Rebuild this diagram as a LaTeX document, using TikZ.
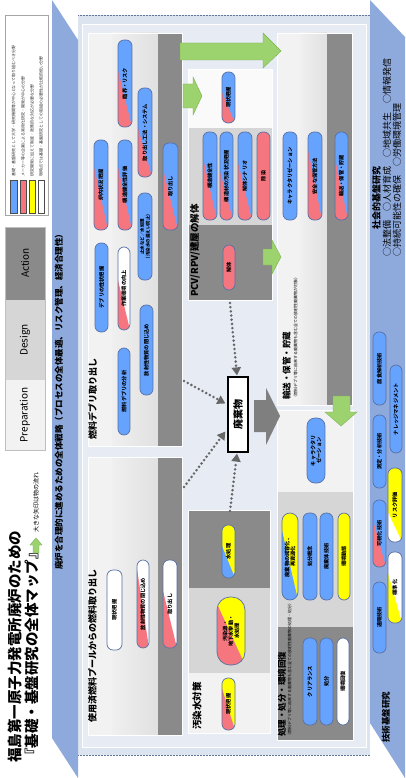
\documentclass[tikz,border=0pt]{standalone}
\usepackage{fontspec}
\setmainfont{Noto Sans CJK JP}
\usetikzlibrary{arrows.meta,calc}
\definecolor{pblue}{HTML}{66A3FF}
\definecolor{ppink}{HTML}{F5767F}
\definecolor{pyel}{HTML}{FFFF00}
\definecolor{pwhite}{HTML}{FFFFFF}
\definecolor{pedge}{HTML}{5770A6}
\definecolor{bgblue}{HTML}{DCE4F0}
\definecolor{panel}{HTML}{E6EBF4}
\definecolor{band}{HTML}{8EA9DB}
\definecolor{clight}{HTML}{F2F2F2}
\definecolor{cmid}{HTML}{D6D6D6}
\definecolor{cdark}{HTML}{8A8A8A}
\definecolor{garrow}{HTML}{9CD36E}
\definecolor{garrowd}{HTML}{7CB24F}
\definecolor{grarrow}{HTML}{7F7F7F}
\definecolor{dotgray}{HTML}{666666}
\def\pillr{6pt}
\newcommand\pillx[9]{%
  \begin{scope}
    \clip[rounded corners=\pillr] (#2,#3) rectangle (#4,#5);
    \fill[#6] (#2,#3) rectangle (#4,#5);
    \fill[#7] (#2,{#3+#9*(#5-#3)}) -- (#2,#5) -- (#4,#5) -- cycle;
  \end{scope}
  \draw[pedge,line width=0.7pt,rounded corners=\pillr] (#2,#3) rectangle (#4,#5);
  \node[pilltext] (#1) at ({(#2+#4)/2},{(#3+#5)/2}) {#8};
}
\begin{document}
\begin{tikzpicture}[x=1pt,y=-1pt,
  pilltext/.style={rotate=90,font=\fontsize{5.2}{5.9}\selectfont\bfseries,inner sep=0pt,align=center},
  rtext/.style={rotate=90,anchor=west,inner sep=0pt},
  sectitle/.style={rtext,font=\fontsize{9}{9}\selectfont\bfseries},
  subtitle/.style={rtext,font=\fontsize{4}{4}\selectfont},
  legtext/.style={rtext,font=\fontsize{4}{4}\selectfont,text=black!80},
  pdatext/.style={rotate=90,font=\fontsize{10}{10}\selectfont,inner sep=0pt},
  bigarrow/.style={fill=garrow,draw=garrowd,line width=0.4pt},
  dotarrow/.style={draw=dotgray,line width=2.8pt,dash pattern=on 0pt off 4.2pt,line cap=round,-{Triangle[length=8pt,width=9pt]}},
  swatch/.style={draw=gray!60!black,line width=0.4pt}
]
\useasboundingbox (0,0) rectangle (405,778);
\fill[white] (0,0) rectangle (405,778);
% background room
\fill[bgblue] (78,15) rectangle (370,755);
\draw[band!70!black,densely dotted,line width=0.5pt] (78,15) -- (370,15);
\draw[band!70!black,densely dotted,line width=0.5pt] (78,755) -- (370,755);
\fill[panel] (82,25) rectangle (366,747);
\draw[white,line width=1pt] (82,25) rectangle (366,747);
% blue bands
\fill[band] (52,0) -- (78,40) -- (78,778) -- (52,738) -- cycle;
\fill[band] (370,0) -- (405,37) -- (405,778) -- (370,723) -- cycle;
\node[rtext,font=\fontsize{8.5}{8.5}\selectfont\bfseries] (strategy) at (59,570) {廃炉を合理的に進めるための全体戦略（プロセスの全体最適、リスク管理、経済合理性）};
\node[rtext,font=\fontsize{9}{9}\selectfont\bfseries] (social) at (376.5,230) {社会的基盤研究};
\node[rtext,font=\fontsize{9}{9}\selectfont] (social2) at (387,257) {○法整備　○人材育成　○地域共生　○情報発信};
\node[rtext,font=\fontsize{9}{9}\selectfont] (social3) at (397,257) {○持続可能性の確保　○労働環境管理};
\node[rtext,font=\fontsize{8.5}{8.5}\selectfont\bfseries] (techbase) at (386,743) {技術基盤研究};
% title
\node[rtext,font=\fontsize{14.5}{14.5}\selectfont\bfseries] (title1) at (15,763) {福島第一原子力発電所廃炉のための};
\node[rtext,font=\fontsize{14.5}{14.5}\selectfont\bfseries] (title2) at (31.5,763) {『基礎・基盤研究の全体マップ』};
\fill[bigarrow] (33,553) -- (33,545) -- (30,545) -- (36,538) -- (42,545) -- (39,545) -- (39,553) -- cycle;
\node[rtext,font=\fontsize{6}{6}\selectfont] (flownote) at (36,533) {大きな矢印は物の流れ};
% P/D/A legend
\fill[cdark] (5,227) rectangle (45,300);
\fill[cmid] (5,300) rectangle (45,380);
\fill[clight] (5,380) rectangle (45,450);
\draw[gray!50,line width=0.5pt] (5,227) rectangle (45,450);
\node[pdatext] (lact) at (25,263) {Action};
\node[pdatext] (ldes) at (25,340) {Design};
\node[pdatext] (lprep) at (25,415) {Preparation};
% colour legend
\draw[gray!70,fill=white,line width=0.5pt] (5,15) rectangle (48,215);
\fill[fill=pblue] (10,180) rectangle (17,213);
\fill[fill=ppink] (20,180) rectangle (26,213);
\fill[fill=pyel] (29,180) rectangle (35,213);
\fill[fill=pwhite] (38,180) rectangle (44,213);
\draw[swatch] (10,180) rectangle (17,213) (20,180) rectangle (26,213) (29,180) rectangle (35,213) (38,180) rectangle (44,213);
\node[legtext] (lt1) at (13.5,177) {基礎・基盤研究として大学・研究機関等が中心となって取り組むべき分野};
\node[legtext] (lt2) at (23,177) {メーカー等の企業による実用化研究・開発が中心の分野};
\node[legtext] (lt3) at (32,177) {研究開発に加えて制度・政策的な対応が必要な分野};
\node[legtext] (lt4) at (41,177) {現時点では基礎・基盤研究としての取組の必要性が比較的低い分野};
% section A : debris
\fill[clight] (88,33) rectangle (112,446);
\shade[left color=gray!12,right color=gray!24] (112,33) rectangle (158,446);
\fill[cdark] (158,33) rectangle (182,446);
\draw[white,line width=0.8pt] (88,33) rectangle (182,446);
\node[sectitle] (tA) at (92.5,440) {燃料デブリ取り出し};
% section B : spent fuel pool
\fill[clight] (88,457) rectangle (112,735);
\shade[left color=gray!12,right color=gray!24] (112,457) rectangle (158,735);
\fill[cdark] (158,457) rectangle (182,735);
\draw[white,line width=0.8pt] (88,457) rectangle (182,735);
\node[sectitle] (tB) at (92.5,723) {使用済燃料プールからの燃料取り出し};
% section C : PCV/RPV
\fill[white!96!gray] (188,69) rectangle (272,128);
\fill[cmid] (188,128) rectangle (272,225);
\fill[cdark] (188,225) rectangle (272,300);
\draw[white,line width=0.8pt] (188,69) rectangle (272,300);
\node[sectitle,font=\fontsize{9.5}{9.5}\selectfont\bfseries] (tC) at (195,297) {PCV/RPV/建屋の解体};
% water section
\fill[cdark] (188,510) rectangle (270,588);
\fill[cmid] (188,588) rectangle (270,673);
\fill[clight] (188,673) rectangle (270,733);
\draw[white,line width=0.8pt] (188,510) rectangle (270,733);
\node[sectitle,font=\fontsize{9.5}{9.5}\selectfont\bfseries] (tW) at (197,730) {汚染水対策};
% section D : transport
\fill[clight] (277,33) rectangle (300,405);
\shade[left color=gray!12,right color=gray!24] (300,33) rectangle (327,405);
\fill[cdark] (327,33) rectangle (352,405);
\draw[white,line width=0.8pt] (277,33) rectangle (352,405);
\node[sectitle,font=\fontsize{8.5}{8.5}\selectfont\bfseries] (tD) at (286.5,400) {輸送・保管・貯蔵};
\node[subtitle] (sD) at (295.5,400) {（燃料デブリ等に由来する廃棄物も含む全ての放射性廃棄物が対象）};
% section E : treatment
\fill[clight] (277,410) rectangle (353,492);
\fill[cmid] (277,492) rectangle (353,627);
\fill[cdark] (277,627) rectangle (353,740);
\draw[white,line width=0.8pt] (277,410) rectangle (353,740);
\node[sectitle,font=\fontsize{8.5}{8.5}\selectfont\bfseries] (tE) at (282,737) {処理・処分・環境回復};
\node[subtitle] (sE) at (289.5,738) {（燃料デブリ等に由来する廃棄物も含む全ての放射性廃棄物の処理・処分）};
% big arrows
\fill[bigarrow] (180,43) -- (263,43) -- (263,33) -- (281,51) -- (263,68) -- (263,60) -- (180,60) -- cycle;
\fill[bigarrow] (183,84) -- (193,84) -- (193,77) -- (202,96) -- (193,115) -- (193,108) -- (183,108) -- cycle;
\fill[bigarrow] (263,249) -- (272,249) -- (272,240) -- (281,257) -- (272,274) -- (272,265) -- (263,265) -- cycle;
\fill[bigarrow] (333,396) -- (350,396) -- (350,412) -- (357,412) -- (341,426) -- (325,412) -- (333,412) -- cycle;
\fill[grarrow] (254,400) -- (266,400) -- (266,388) -- (280,416) -- (266,445) -- (266,432) -- (254,432) -- cycle;
% waste node and dotted connectors
\node[draw=black,line width=1.2pt,fill=white,minimum width=20pt,minimum height=75pt,inner sep=0pt] (waste) at (238,414.5) {\rotatebox{90}{\fontsize{10}{10}\selectfont\bfseries 廃棄物}};
\coordinate (sA) at (184,381);
\coordinate (sB) at (184,487);
\coordinate (sC) at (230,303);
\coordinate (sW) at (230,511);
\draw[dotarrow] (sA) -- ($(waste.west)+(-2,-11)$);
\draw[dotarrow] (sB) -- ($(waste.west)+(-2,17)$);
\draw[dotarrow] (sC) -- ($(waste.north)+(-1,-1)$);
\draw[dotarrow] (sW) -- ($(waste.south)+(-1,1)$);
% pills section A
\pillx{a1}{118}{40}{132}{127}{pblue}{ppink}{臨界・リスク}{0.35}
\pillx{a2}{138}{88}{152}{177}{pblue}{ppink}{取り出し工法・システム}{0.45}
\pillx{a3}{94}{140}{108}{230}{pblue}{ppink}{炉内状況把握}{0.3}
\pillx{a4}{118}{140}{132}{230}{pblue}{ppink}{構造健全性評価}{0.3}
\pillx{a5}{138}{193}{152}{280}{pblue}{pblue}{\fontsize{4.5}{5}\selectfont 止水など／水処理\\\fontsize{4.5}{5}\selectfont （汚染水の漏えい防止）}{1}
\pillx{a6}{163}{143}{178}{230}{pblue}{ppink}{取り出し}{0.3}
\pillx{a7}{95}{243}{108}{332}{pblue}{pblue}{デブリの性状把握}{1}
\pillx{a8}{118}{247}{130}{330}{pwhite}{ppink}{作業環境の向上}{0.4}
\pillx{a9}{140}{305}{153}{395}{pblue}{pblue}{放射性物質の閉じ込め}{1}
\pillx{a10}{118}{348}{130}{435}{pblue}{pblue}{燃料デブリの分析}{1}
% pills section B
\pillx{b1}{107}{570}{122}{650}{pwhite}{pwhite}{現状把握}{1}
\pillx{b2}{137}{560}{149}{648}{pwhite}{ppink}{放射性物質の閉じ込め}{0.1}
\pillx{b3}{163}{560}{177}{648}{pwhite}{ppink}{取り出し}{0.35}
% pills water
\pillx{w1}{222}{678}{235}{730}{pyel}{ppink}{現状把握}{0.2}
\def\pillr{13pt}
\pillx{w2}{217}{597}{245}{665}{pyel}{ppink}{汚染源・\\地下水挙動・\\水処理}{0.1}
\def\pillr{6pt}
\pillx{w3}{222}{525}{235}{578}{pyel}{pblue}{水処理}{0.4}
% pills section C
\pillx{c1}{222}{72}{235}{123}{pblue}{ppink}{現状把握}{0.4}
\pillx{c2}{203}{132}{217}{220}{pblue}{ppink}{構造健全性}{0.3}
\pillx{c3}{220}{132}{233}{220}{pblue}{ppink}{構造材の汚染状況把握}{0.45}
\pillx{c4}{238}{132}{252}{220}{pblue}{ppink}{解体シナリオ}{0.35}
\pillx{c5}{257}{132}{270}{220}{ppink}{ppink}{除染}{1}
\pillx{c6}{223}{245}{235}{290}{ppink}{ppink}{解体}{1}
% pills section D
\pillx{d1}{283}{132}{297}{220}{pblue}{pblue}{キャラクタリゼーション}{1}
\pillx{d2}{308}{132}{322}{220}{pblue}{ppink}{安全な保管方法}{0.2}
\pillx{d3}{335}{132}{348}{220}{pblue}{ppink}{輸送・保管・貯蔵}{0.3}
% pills section E
\def\pillr{8pt}
\pillx{e1}{307}{418}{325}{483}{pblue}{pblue}{キャラクタリ\\ゼーション}{1}
\pillx{e2}{282}{513}{298}{600}{pyel}{pblue}{廃棄物の減容化、\\再資源化}{0.2}
\def\pillr{6pt}
\pillx{e3}{303}{513}{317}{600}{pblue}{pblue}{処分概念}{1}
\pillx{e4}{320}{513}{333}{600}{pblue}{pblue}{廃棄体技術}{1}
\pillx{e5}{338}{513}{350}{600}{pyel}{pyel}{環境動態}{1}
\pillx{e6}{303}{638}{317}{725}{pblue}{pblue}{クリアランス}{1}
\pillx{e7}{320}{638}{333}{725}{pblue}{pblue}{処分}{1}
\pillx{e8}{337}{638}{349}{725}{pwhite}{pwhite}{環境回復}{1}
% pills technical base
\pillx{t1}{373}{332}{386}{405}{pblue}{pblue}{腐食解析技術}{1}
\pillx{t2}{373}{415}{386}{488}{pblue}{pblue}{測定・分析技術}{1}
\pillx{t3}{390}{365}{402}{453}{pblue}{pblue}{ナレッジマネジメント}{1}
\pillx{t4}{388}{468}{402}{542}{pyel}{pwhite}{リスク評価}{0.6}
\pillx{t5}{373}{500}{386}{567}{pblue}{ppink}{可視化技術}{0.3}
\pillx{t6}{388}{552}{402}{623}{pwhite}{pyel}{標準化}{0.3}
\pillx{t7}{373}{582}{386}{653}{pblue}{pblue}{遠隔技術}{1}
\end{tikzpicture}
\end{document}
